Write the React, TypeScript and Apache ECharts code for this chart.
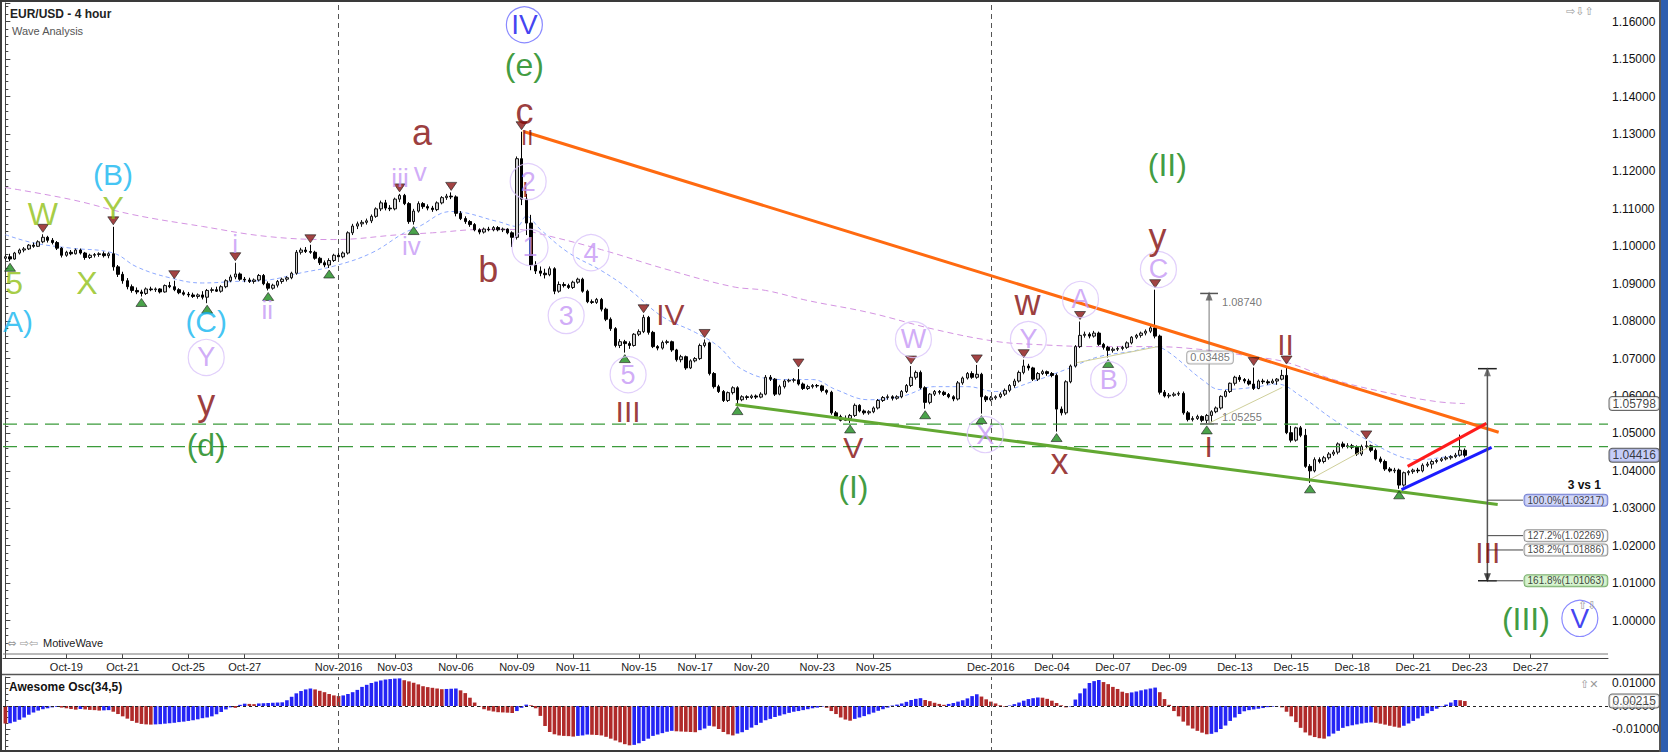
import React, { useEffect, useRef } from "react";
import * as echarts from "echarts";

const FONT = "'Liberation Sans', Arial, Helvetica, sans-serif";
const SLOTS = 342;

const dateTicks: [number, string][] = [
  [13, "Oct-19"], [25, "Oct-21"], [39, "Oct-25"], [51, "Oct-27"], [71, "Nov-2016"],
  [83, "Nov-03"], [96, "Nov-06"], [109, "Nov-09"], [121, "Nov-11"], [135, "Nov-15"],
  [147, "Nov-17"], [159, "Nov-20"], [173, "Nov-23"], [185, "Nov-25"], [210, "Dec-2016"],
  [223, "Dec-04"], [236, "Dec-07"], [248, "Dec-09"], [262, "Dec-13"], [274, "Dec-15"],
  [287, "Dec-18"], [300, "Dec-21"], [312, "Dec-23"], [325, "Dec-27"],
];
const monthStarts = ["71", "210"];

// 4-hour candles: [open, high, low, close]
const bars1 = [
  [1.0968,1.0978,1.0962,1.0972],[1.0972,1.0980,1.0960,1.0966],[1.0966,1.0985,1.0964,1.0982],[1.0982,1.0994,1.0978,1.0990],
  [1.0990,1.0998,1.0984,1.0993],[1.0993,1.1006,1.0990,1.1003],[1.1003,1.1010,1.0996,1.1000],[1.1000,1.1016,1.0998,1.1012],
  [1.1012,1.1032,1.1008,1.1024],[1.1024,1.1028,1.1010,1.1016],[1.1016,1.1022,1.1005,1.1010],[1.1010,1.1014,1.0990,1.0995],
  [1.0995,1.0998,1.0970,1.0976],[1.0976,1.0988,1.0972,1.0984],[1.0984,1.0990,1.0976,1.0980],[1.0980,1.0994,1.0978,1.0990],
  [1.0990,1.0994,1.0978,1.0982],[1.0982,1.0985,1.0964,1.0970],[1.0970,1.0980,1.0966,1.0976],[1.0976,1.0982,1.0970,1.0978],
  [1.0978,1.0984,1.0972,1.0980],[1.0980,1.0986,1.0970,1.0975],[1.0975,1.0984,1.0968,1.0980],[1.0980,1.1052,1.0935,1.0945],
  [1.0945,1.0950,1.0918,1.0925],[1.0925,1.0932,1.0900,1.0908],[1.0908,1.0915,1.0885,1.0892],[1.0892,1.0898,1.0876,1.0882],
  [1.0882,1.0890,1.0872,1.0878],[1.0878,1.0884,1.0866,1.0874],
];
const bars2 = [
  [1.0874,1.0890,1.0870,1.0886],[1.0886,1.0892,1.0880,1.0884],[1.0884,1.0890,1.0878,1.0886],[1.0886,1.0888,1.0874,1.0878],
  [1.0878,1.0898,1.0876,1.0895],[1.0895,1.0905,1.0888,1.0892],[1.0892,1.0908,1.0880,1.0884],[1.0884,1.0888,1.0872,1.0876],
  [1.0876,1.0882,1.0868,1.0872],[1.0872,1.0878,1.0864,1.0870],[1.0870,1.0876,1.0862,1.0866],[1.0866,1.0874,1.0860,1.0870],
  [1.0870,1.0880,1.0858,1.0864],[1.0864,1.0886,1.0848,1.0882],[1.0882,1.0890,1.0876,1.0884],[1.0884,1.0892,1.0878,1.0880],
  [1.0880,1.0896,1.0876,1.0892],[1.0892,1.0912,1.0888,1.0908],[1.0908,1.0924,1.0904,1.0918],[1.0918,1.0956,1.0912,1.0926],
  [1.0926,1.0930,1.0908,1.0912],[1.0912,1.0918,1.0904,1.0910],[1.0910,1.0916,1.0902,1.0906],[1.0906,1.0914,1.0900,1.0910],
  [1.0910,1.0926,1.0906,1.0922],[1.0922,1.0926,1.0896,1.0900],[1.0900,1.0906,1.0882,1.0888],[1.0888,1.0900,1.0884,1.0896],
  [1.0896,1.0910,1.0890,1.0906],[1.0906,1.0916,1.0900,1.0912],
];
const bars3 = [
  [1.0912,1.0920,1.0906,1.0916],[1.0916,1.0932,1.0912,1.0928],[1.0928,1.0990,1.0924,1.0984],[1.0984,1.0996,1.0978,1.0990],
  [1.0990,1.0998,1.0982,1.0986],[1.0986,1.1004,1.0980,1.0984],[1.0984,1.0988,1.0964,1.0968],[1.0968,1.0972,1.0950,1.0956],
  [1.0956,1.0962,1.0944,1.0950],[1.0950,1.0968,1.0942,1.0962],[1.0962,1.0980,1.0958,1.0976],[1.0976,1.0984,1.0966,1.0972],
  [1.0972,1.0986,1.0968,1.0982],[1.0982,1.1040,1.0978,1.1036],[1.1036,1.1060,1.1030,1.1054],[1.1054,1.1066,1.1046,1.1060],
  [1.1060,1.1070,1.1052,1.1064],[1.1064,1.1074,1.1058,1.1068],[1.1068,1.1085,1.1062,1.1080],[1.1080,1.1104,1.1076,1.1100],
  [1.1100,1.1122,1.1094,1.1116],[1.1116,1.1124,1.1096,1.1102],[1.1102,1.1110,1.1094,1.1100],[1.1100,1.1130,1.1096,1.1126],
  [1.1126,1.1140,1.1118,1.1136],[1.1136,1.1140,1.1110,1.1114],[1.1114,1.1118,1.1060,1.1066],[1.1066,1.1100,1.1058,1.1094],
  [1.1094,1.1120,1.1090,1.1114],[1.1114,1.1118,1.1100,1.1106],
];
const bars4 = [
  [1.1106,1.1112,1.1096,1.1102],[1.1102,1.1108,1.1092,1.1098],[1.1098,1.1120,1.1094,1.1116],[1.1116,1.1134,1.1112,1.1130],
  [1.1130,1.1140,1.1124,1.1134],[1.1134,1.1144,1.1126,1.1132],[1.1132,1.1136,1.1080,1.1088],[1.1088,1.1094,1.1070,1.1074],
  [1.1074,1.1080,1.1060,1.1066],[1.1066,1.1070,1.1052,1.1058],[1.1058,1.1062,1.1040,1.1044],[1.1044,1.1048,1.1032,1.1038],
  [1.1038,1.1050,1.1034,1.1046],[1.1046,1.1052,1.1040,1.1044],[1.1044,1.1054,1.1040,1.1050],[1.1050,1.1054,1.1040,1.1044],
  [1.1044,1.1050,1.1038,1.1046],[1.1046,1.1048,1.1032,1.1036],[1.1036,1.1040,1.0998,1.1024],[1.1024,1.1240,1.1018,1.1234],
  [1.1234,1.1306,1.1110,1.1126],[1.1126,1.1140,1.1030,1.1062],[1.1062,1.1084,1.0936,1.0950],[1.0950,1.0960,1.0926,1.0934],
  [1.0934,1.0946,1.0920,1.0928],[1.0928,1.0940,1.0914,1.0924],[1.0924,1.0946,1.0920,1.0940],[1.0940,1.0944,1.0872,1.0880],
  [1.0880,1.0906,1.0876,1.0898],[1.0898,1.0904,1.0890,1.0895],
];
const bars5 = [
  [1.0895,1.0900,1.0886,1.0890],[1.0890,1.0908,1.0886,1.0904],[1.0904,1.0916,1.0900,1.0912],[1.0912,1.0916,1.0876,1.0880],
  [1.0880,1.0884,1.0848,1.0852],[1.0852,1.0858,1.0846,1.0850],[1.0850,1.0862,1.0846,1.0858],[1.0858,1.0862,1.0826,1.0832],
  [1.0832,1.0836,1.0800,1.0805],[1.0805,1.0810,1.0774,1.0780],[1.0780,1.0784,1.0730,1.0735],[1.0735,1.0752,1.0728,1.0745],
  [1.0745,1.0750,1.0716,1.0740],[1.0740,1.0746,1.0726,1.0735],[1.0735,1.0768,1.0732,1.0765],[1.0765,1.0778,1.0760,1.0772],
  [1.0772,1.0817,1.0768,1.0810],[1.0810,1.0814,1.0764,1.0770],[1.0770,1.0774,1.0728,1.0732],[1.0732,1.0736,1.0722,1.0728],
  [1.0728,1.0748,1.0724,1.0743],[1.0743,1.0750,1.0738,1.0745],[1.0745,1.0748,1.0718,1.0723],[1.0723,1.0726,1.0692,1.0697],
  [1.0697,1.0710,1.0690,1.0705],[1.0705,1.0708,1.0670,1.0675],[1.0675,1.0698,1.0672,1.0694],[1.0694,1.0704,1.0690,1.0700],
  [1.0700,1.0740,1.0696,1.0735],[1.0735,1.0751,1.0730,1.0742],
];
const bars6 = [
  [1.0742,1.0745,1.0655,1.0660],[1.0660,1.0664,1.0620,1.0625],[1.0625,1.0630,1.0608,1.0612],[1.0612,1.0616,1.0584,1.0588],
  [1.0588,1.0612,1.0584,1.0609],[1.0609,1.0626,1.0604,1.0622],[1.0622,1.0626,1.0577,1.0590],[1.0590,1.0602,1.0586,1.0598],
  [1.0598,1.0602,1.0590,1.0596],[1.0596,1.0604,1.0592,1.0600],[1.0600,1.0604,1.0592,1.0597],[1.0597,1.0610,1.0594,1.0605],
  [1.0605,1.0656,1.0602,1.0650],[1.0650,1.0656,1.0640,1.0645],[1.0645,1.0648,1.0600,1.0605],[1.0605,1.0630,1.0602,1.0625],
  [1.0625,1.0644,1.0620,1.0640],[1.0640,1.0646,1.0636,1.0642],[1.0642,1.0648,1.0636,1.0643],[1.0643,1.0672,1.0628,1.0632],
  [1.0632,1.0636,1.0616,1.0620],[1.0620,1.0630,1.0616,1.0625],[1.0625,1.0632,1.0620,1.0628],[1.0628,1.0632,1.0622,1.0627],
  [1.0627,1.0630,1.0610,1.0615],[1.0615,1.0618,1.0604,1.0610],[1.0610,1.0614,1.0550,1.0555],[1.0555,1.0560,1.0540,1.0545],
  [1.0545,1.0550,1.0532,1.0535],[1.0535,1.0548,1.0533,1.0540],
];
const bars7 = [
  [1.0540,1.0552,1.0528,1.0548],[1.0548,1.0580,1.0544,1.0575],[1.0575,1.0578,1.0556,1.0560],[1.0560,1.0564,1.0550,1.0555],
  [1.0555,1.0562,1.0550,1.0558],[1.0558,1.0572,1.0554,1.0568],[1.0568,1.0592,1.0564,1.0588],[1.0588,1.0600,1.0584,1.0596],
  [1.0596,1.0604,1.0590,1.0598],[1.0598,1.0602,1.0588,1.0594],[1.0594,1.0602,1.0590,1.0598],[1.0598,1.0616,1.0594,1.0612],
  [1.0612,1.0632,1.0608,1.0628],[1.0628,1.0680,1.0624,1.0650],[1.0650,1.0668,1.0644,1.0663],[1.0663,1.0668,1.0618,1.0622],
  [1.0622,1.0626,1.0566,1.0583],[1.0583,1.0608,1.0578,1.0605],[1.0605,1.0616,1.0600,1.0612],[1.0612,1.0616,1.0604,1.0610],
  [1.0610,1.0614,1.0600,1.0604],[1.0604,1.0608,1.0594,1.0598],[1.0598,1.0602,1.0586,1.0592],[1.0592,1.0640,1.0588,1.0635],
  [1.0635,1.0652,1.0630,1.0648],[1.0648,1.0664,1.0644,1.0660],[1.0660,1.0666,1.0646,1.0650],[1.0650,1.0683,1.0646,1.0658],
  [1.0658,1.0662,1.0553,1.0598],[1.0598,1.0602,1.0584,1.0590],
];
const bars8 = [
  [1.0590,1.0600,1.0586,1.0595],[1.0595,1.0602,1.0590,1.0598],[1.0598,1.0610,1.0594,1.0605],[1.0605,1.0620,1.0600,1.0615],
  [1.0615,1.0632,1.0610,1.0628],[1.0628,1.0646,1.0622,1.0640],[1.0640,1.0668,1.0636,1.0663],[1.0663,1.0697,1.0658,1.0680],
  [1.0680,1.0686,1.0668,1.0675],[1.0675,1.0678,1.0640,1.0645],[1.0645,1.0664,1.0640,1.0660],[1.0660,1.0670,1.0656,1.0665],
  [1.0665,1.0668,1.0654,1.0660],[1.0660,1.0664,1.0650,1.0655],[1.0655,1.0660,1.0505,1.0565],[1.0565,1.0572,1.0548,1.0555],
  [1.0555,1.0642,1.0550,1.0638],[1.0638,1.0684,1.0634,1.0680],[1.0680,1.0736,1.0676,1.0732],[1.0732,1.0799,1.0728,1.0762],
  [1.0762,1.0772,1.0756,1.0765],[1.0765,1.0770,1.0754,1.0760],[1.0760,1.0774,1.0756,1.0768],[1.0768,1.0772,1.0734,1.0738],
  [1.0738,1.0742,1.0724,1.0730],[1.0730,1.0734,1.0703,1.0722],[1.0722,1.0730,1.0716,1.0725],[1.0725,1.0732,1.0720,1.0727],
  [1.0727,1.0734,1.0722,1.0730],[1.0730,1.0746,1.0726,1.0742],
];
const bars9 = [
  [1.0742,1.0760,1.0738,1.0757],[1.0757,1.0766,1.0752,1.0762],[1.0762,1.0772,1.0756,1.0768],[1.0768,1.0778,1.0762,1.0773],
  [1.0773,1.0790,1.0768,1.0782],[1.0782,1.0884,1.0754,1.0760],[1.0760,1.0764,1.0604,1.0610],[1.0610,1.0616,1.0596,1.0600],
  [1.0600,1.0608,1.0594,1.0602],[1.0602,1.0610,1.0598,1.0605],[1.0605,1.0612,1.0600,1.0607],[1.0607,1.0612,1.0550,1.0555],
  [1.0555,1.0560,1.0532,1.0537],[1.0537,1.0546,1.0532,1.0540],[1.0540,1.0550,1.0536,1.0545],[1.0545,1.0548,1.0530,1.0535],
  [1.0535,1.0552,1.05255,1.0548],[1.0548,1.0562,1.0530,1.0558],[1.0558,1.0572,1.0554,1.0568],[1.0568,1.0602,1.0564,1.0599],
  [1.0599,1.0616,1.0596,1.0612],[1.0612,1.0636,1.0608,1.0634],[1.0634,1.0654,1.0628,1.0650],[1.0650,1.0656,1.0638,1.0644],
  [1.0644,1.0648,1.0634,1.0640],[1.0640,1.0646,1.0628,1.0632],[1.0632,1.0676,1.0616,1.0620],[1.0620,1.0644,1.0618,1.0640],
  [1.0640,1.0646,1.0632,1.0638],[1.0638,1.0644,1.0630,1.0635],
];
const bars10 = [
  [1.0635,1.0646,1.0632,1.0640],[1.0640,1.0648,1.0630,1.0645],[1.0645,1.0670,1.0642,1.0655],[1.0655,1.0680,1.0498,1.0502],
  [1.0502,1.0520,1.0476,1.0482],[1.0482,1.0518,1.0478,1.0515],[1.0515,1.0520,1.0490,1.0495],[1.0495,1.0512,1.0408,1.0412],
  [1.0412,1.0418,1.0368,1.0400],[1.0400,1.0436,1.0396,1.0430],[1.0430,1.0436,1.0420,1.0425],[1.0425,1.0440,1.0420,1.0435],
  [1.0435,1.0450,1.0430,1.0445],[1.0445,1.0456,1.0440,1.0450],[1.0450,1.0476,1.0444,1.0472],[1.0472,1.0478,1.0460,1.0465],
  [1.0465,1.0474,1.0460,1.0467],[1.0467,1.0472,1.0458,1.0463],[1.0463,1.0468,1.0440,1.0445],[1.0445,1.0470,1.0440,1.0465],
  [1.0465,1.0480,1.0458,1.0467],[1.0467,1.0470,1.0450,1.0455],[1.0455,1.0460,1.0428,1.0432],[1.0432,1.0438,1.0420,1.0425],
  [1.0425,1.0430,1.0400,1.0405],[1.0405,1.0410,1.0396,1.0400],[1.0400,1.0408,1.0394,1.0402],[1.0402,1.0406,1.0352,1.0362],
  [1.0362,1.0398,1.0358,1.0395],[1.0395,1.0402,1.0388,1.0398],
];
const bars11 = [
  [1.0398,1.0406,1.0392,1.0402],[1.0402,1.0408,1.0394,1.0400],[1.0400,1.0420,1.0396,1.0415],[1.0415,1.0424,1.0410,1.0418],
  [1.0418,1.0430,1.0406,1.0425],[1.0425,1.0432,1.0420,1.0428],[1.0428,1.0436,1.0424,1.0432],[1.0432,1.0440,1.0428,1.0435],
  [1.0435,1.0442,1.0430,1.0438],[1.0438,1.0448,1.0434,1.0442],[1.0442,1.0497,1.0438,1.0455],[1.0455,1.0460,1.0436,1.04416],
];

// Awesome Oscillator (34,5), in thousandths
const ao1 = [-7.6,-7.5,-6.8,-6.0,-5.0,-3.8,-2.8,-2.0,-1.4,-1.0,-0.6,-0.4,-0.7,-1.0,-1.3,-1.6,-1.3,-1.5,-1.7,-1.8,-2.0,-1.9,-1.8,-2.5,-3.5,-4.5,-5.5,-6.5,-7.3,-7.8,-8.0,-8.1,-8.0,-7.9,-7.7,-7.5,-7.3,-7.0,-6.8,-6.5,-6.2,-5.8,-5.3,-5.0,-4.5,-3.6,-2.6,-1.5,-0.6,-0.8,0.5,1.0,0.9,0.8,1.1,1.2,1.3,1.4,1.5,1.6];
const ao2 = [2.5,4.0,5.5,6.5,7.2,7.6,7.2,6.6,6.0,5.2,4.6,4.3,4.6,5.2,6.0,7.0,8.3,9.2,10.0,10.6,11.1,11.5,11.7,11.9,12.0,11.2,10.7,10.1,9.4,8.6,8.2,7.9,7.6,7.3,7.4,7.5,7.6,6.8,5.6,3.6,1.5,-0.3,-1.4,-2.0,-2.4,-2.7,-2.8,-2.9,-3.0,-2.2,-0.8,0.6,0.3,-1.0,-4.3,-8.7,-11.3,-12.3,-12.8,-13.0];
const ao3 = [-13.1,-13.3,-13.0,-12.8,-12.4,-12.5,-12.6,-12.8,-13.4,-14.2,-15.0,-15.8,-16.6,-17.1,-16.9,-16.2,-15.2,-14.2,-13.0,-12.4,-11.8,-11.2,-10.8,-11.0,-11.1,-11.2,-11.3,-11.4,-10.5,-9.8,-8.6,-8.9,-10.0,-11.3,-12.3,-12.8,-12.0,-11.4,-10.4,-9.4,-8.3,-7.3,-6.2,-5.6,-4.8,-4.2,-3.6,-3.0,-2.5,-2.2,-1.8,-1.4,-1.0,-0.7,-0.3,-0.8,-2.2,-3.5,-5.0,-5.9];
const ao4 = [-6.4,-5.6,-5.0,-4.4,-3.6,-2.9,-2.1,-1.4,-0.7,0.2,0.6,1.1,1.8,2.6,3.1,3.4,2.6,2.1,1.4,0.9,0.5,0.9,1.3,1.9,2.5,3.3,4.3,5.1,4.1,2.9,1.9,1.1,0.3,-0.3,0.2,0.8,1.5,2.3,3.0,3.4,3.7,3.6,3.1,2.3,1.3,0.3,-0.6,-0.2,2.8,5.5,7.6,10.0,10.8,11.3,10.4,9.5,8.3,7.4,6.2,5.6];
const ao5 = [5.9,6.3,6.8,7.2,7.6,8.0,6.0,3.0,0.5,-2.2,-4.5,-6.8,-8.5,-9.8,-10.8,-11.6,-12.3,-12.1,-11.4,-10.0,-8.5,-6.5,-5.0,-3.5,-2.3,-1.8,-1.5,-1.2,-0.9,-0.5,-0.3,-0.1,-0.6,-2.5,-4.5,-7.0,-9.5,-11.5,-12.8,-13.5,-14.0,-14.2,-13.2,-12.0,-10.8,-9.5,-8.8,-8.4,-8.0,-7.6,-7.3,-7.1,-7.3,-7.7,-8.1,-8.6,-9.0,-9.4,-8.6,-7.6,-6.5,-5.4,-4.3,-3.2,-2.2,-1.2,-0.3,0.6,1.5,2.6,2.5,2.15];

// moving averages read at sample bars [bar, price]
const maFast = [[0,1.1031],[6,1.1009],[14,1.0995],[23,1.0982],[28,1.0945],[35,1.0916],[42,1.0902],[49,1.0906],[56,1.0910],[63,1.0929],[70,1.0947],[78,1.0982],[85,1.1036],[88,1.1052],[95,1.1093],[105,1.1066],[109,1.1053],[111,1.1080],[114,1.1045],[120,1.0983],[127,1.0935],[133,1.0884],[140,1.0812],[147,1.0770],[152,1.0732],[157,1.0671],[165,1.0644],[172,1.0644],[177,1.0617],[184,1.0590],[191,1.0599],[198,1.0625],[205,1.0625],[211,1.0612],[219,1.0639],[226,1.0671],[233,1.0705],[240,1.0719],[245,1.0732],[248,1.0716],[255,1.0644],[259,1.0617],[266,1.0623],[271,1.0632],[276,1.0600],[283,1.0537],[290,1.0484],[297,1.0439],[301,1.0430],[308,1.0439],[311,1.0444]];
const maSlow = [[0,1.1157],[14,1.1125],[27,1.1085],[42,1.1053],[56,1.1026],[70,1.1018],[84,1.1031],[91,1.1036],[102,1.1045],[109,1.1045],[113,1.1036],[127,1.0991],[141,1.0938],[155,1.0892],[162,1.0882],[171,1.0855],[184,1.0823],[198,1.0778],[211,1.0746],[219,1.0738],[233,1.0732],[244,1.0732],[255,1.0724],[266,1.0705],[273,1.0690],[283,1.0644],[294,1.0610],[305,1.0585],[311,1.05798]];

const peakIdx = [8,23,36,49,65,84,95,110,136,149,169,193,207,217,229,245,266,273,290];
const troughIdx = [1,29,43,56,69,87,132,156,180,196,208,224,235,256,278,297];

const supportLevels = [1.0525, 1.0465];
const trendOrange = [[110.6,1.1306],[318.2,1.0503]];
const trendGreen = [[155.6,1.0577],[318.0,1.0310]];
const channelRed = [[298.8,1.0412],[315.6,1.0527]];
const channelBlue = [[297.5,1.0350],[316.7,1.0463]];
const guide1 = [[228.3,1.0689],[245.6,1.0732]];
const guide2 = [[256.7,1.0529],[272.1,1.0623]];
const guide3 = [[278.0,1.0377],[290.8,1.0465]];

const measureCol = 256.5, measureTop = 1.0874, measureBottom = 1.05255;
const fibCol = 315.8, fibTop = 1.0673, fibBoxCol = 323.4;
const fibLevels: [string, number][] = [["100.0%",1.03217],["127.2%",1.02269],["138.2%",1.01886],["161.8%",1.01063]];
const lastPrice = 1.04416, slowMaLast = 1.05798, aoLast = 0.00215;

// wave labels [text, bar, price]
const cyanLabels = [["(B)",22.95,1.1191],["A)",2.7,1.0799],["(C)",42.8,1.0799]];
const limeLabels = [["W",8.0,1.1085],["Y",22.95,1.1103],["5",1.85,1.0903],["X",17.4,1.0903]];
const maroonLetters = [["y",42.8,1.0583],["a",88.8,1.1304],["b",102.9,1.0938],["c",110.6,1.1360],["w",217.8,1.0850],["x",224.6,1.0425],["y",245.5,1.1026]];
const maroonRoman = [["IV",141.7,1.0818],["III",132.7,1.0559],["V",180.7,1.0462],["I",256.4,1.0465],["II",272.8,1.0738],["III",315.9,1.0182]];
const maroonSmall = [["II",111.2,1.1290],["I",110.8,1.1151]];
const greenLabels = [["(d)",42.8,1.0470],["(e)",110.6,1.1485],["(I)",180.7,1.0358],["(II)",247.6,1.1218],["(III)",324.0,1.0003]];
const purpleSmall = [["i",48.96,1.1005],["ii",55.8,1.0831],["iii",84.1,1.1183],["v",88.4,1.1199],["iv",86.5,1.1002]];
const purpleCircled = [["Y",42.8,1.0703],["2",111.4,1.1173],["1",111.8,1.0997],["3",119.5,1.0815],["4",124.8,1.0983],["5",132.7,1.0657],["W",193.5,1.0751],["Y",218.0,1.0751],["X",208.8,1.0497],["A",229.1,1.0858],["B",235.1,1.0644],["C",245.7,1.0938]];
const blueCircled = [["IV",110.6,1.1592],["V",335.5,1.0006]];

const BLUE = "#2424f5";
const RED = "#b02a2a";

function buildOption() {
  const bars = [...bars1, ...bars2, ...bars3, ...bars4, ...bars5, ...bars6, ...bars7, ...bars8, ...bars9, ...bars10, ...bars11];
  const candles = bars.map(([o, h, l, c]) => [o, c, l, h]);
  const ao = [...ao1, ...ao2, ...ao3, ...ao4, ...ao5].map((v) => v / 1000);
  const aoData = ao.map((v, i) => ({ value: v, itemStyle: { color: i > 0 && v > ao[i - 1] ? BLUE : RED } }));
  const tickMap = new Map<number, string>(dateTicks);
  const cats = Array.from({ length: SLOTS }, (_, i) => String(i));

  const line = (data: number[][], color: string, width: number, type: any = "solid", z = 5, smooth: any = false) => ({
    type: "line", xAxisIndex: 2, yAxisIndex: 0, data, symbol: "none", smooth, z, silent: true,
    lineStyle: { color, width, type },
  });

  const texts = (items: any[], color: string, size: number, circle?: string) => ({
    type: "scatter", xAxisIndex: 2, yAxisIndex: 0, z: 9, silent: true, clip: false,
    symbol: "circle", symbolSize: circle ? 36 : 1,
    itemStyle: circle
      ? { color: "rgba(255,255,255,0)", borderColor: circle, borderWidth: 1.2 }
      : { color: "rgba(255,255,255,0)" },
    label: { show: true, position: "inside", formatter: "{b}", color, fontSize: size, fontFamily: FONT },
    data: items.map(([t, x, y]) => ({ name: t, value: [x, y] })),
  });

  const box = (xi: number, yi: number, x: number, y: number, text: string, bg: string, border: string, size: number, pos: any = "right", color = "#111") => ({
    type: "scatter", xAxisIndex: xi, yAxisIndex: yi, z: 12, silent: true, clip: false,
    symbol: "circle", symbolSize: 1, itemStyle: { color: "rgba(255,255,255,0)" },
    label: {
      show: true, position: pos, distance: 1, formatter: text, color, fontSize: size, fontFamily: FONT,
      backgroundColor: bg, borderColor: border, borderWidth: border === "none" ? 0 : 1, borderRadius: 3, padding: [1, 3, 0, 3],
    },
    data: [[x, y]],
  });

  const series: any[] = [
    line(maFast, "#8eaaff", 1, [4, 3], 2, 0.4),
    line(maSlow, "#d494e2", 1, [6, 4], 2, 0.4),
    {
      type: "candlestick", xAxisIndex: 0, yAxisIndex: 0, data: candles, barWidth: 3, z: 3, silent: true,
      itemStyle: { color: "#cfcfcf", color0: "#000000", borderColor: "#111111", borderColor0: "#000000", borderWidth: 1 },
      markLine: {
        silent: true, symbol: ["none", "none"], label: { show: false },
        data: monthStarts.map((m) => ({ xAxis: m, lineStyle: { color: "#555", width: 1, type: [5, 4] } })),
      },
    },
    ...supportLevels.map((v) => line([[-0.5, v], [SLOTS - 0.5, v]], "#3b9b3b", 1.3, [14, 7], 4)),
    {
      type: "bar", xAxisIndex: 1, yAxisIndex: 1, data: aoData, barWidth: 3.6, silent: true,
      markLine: {
        silent: true, symbol: ["none", "none"], label: { show: false },
        data: [
          { yAxis: 0, lineStyle: { color: "#222", width: 1, type: [3, 3] } },
          ...monthStarts.map((m) => ({ xAxis: m, lineStyle: { color: "#555", width: 1, type: [5, 4] } })),
        ],
      },
    },
    line(trendOrange, "#ff6a10", 3, "solid", 6),
    line(trendGreen, "#62a832", 3, "solid", 6),
    line(channelRed, "#ff1c1c", 3, "solid", 6),
    line(channelBlue, "#1c1cff", 3, "solid", 6),
    line(guide1, "#cfcf9a", 1, "solid", 4),
    line(guide2, "#cfcf9a", 1, "solid", 4),
    line(guide3, "#cfcf9a", 1, "solid", 4),
    line([[measureCol, measureBottom], [measureCol, measureTop]], "#777", 1, "solid", 6),
    line([[measureCol - 1.9, measureTop], [measureCol + 1.9, measureTop]], "#555", 1.5, "solid", 6),
    line([[measureCol - 1.9, measureBottom], [measureCol + 1.9, measureBottom]], "#777", 1.5, "solid", 6),
    line([[fibCol, fibLevels[3][1]], [fibCol, fibTop]], "#555", 1.5, "solid", 6),
    line([[fibCol - 2, fibTop], [fibCol + 2, fibTop]], "#222", 1.5, "solid", 6),
    line([[fibCol - 2, fibLevels[3][1]], [fibCol + 2, fibLevels[3][1]]], "#222", 1.5, "solid", 6),
    ...fibLevels.map(([, v]) => line([[fibCol, v], [fibBoxCol, v]], "#444", 1, "solid", 6)),
    {
      type: "scatter", xAxisIndex: 2, yAxisIndex: 0, z: 7, silent: true, clip: false,
      symbol: "triangle", symbolSize: [7, 9], itemStyle: { color: "#555" },
      data: [[measureCol, measureTop - 0.0007], [fibCol, fibTop - 0.0008]],
    },
    {
      type: "scatter", xAxisIndex: 2, yAxisIndex: 0, z: 7, silent: true, clip: false,
      symbol: "path://M0,0L10,0L5,10Z", symbolSize: [7, 9], itemStyle: { color: "#222" },
      data: [[fibCol, fibLevels[3][1] + 0.0008]],
    },
    {
      type: "scatter", xAxisIndex: 0, yAxisIndex: 0, z: 7, silent: true,
      symbol: "path://M0,0L12,0L6,8Z", symbolSize: [11, 8], symbolOffset: [0, -6],
      itemStyle: { color: "#8b1414", borderColor: "#222", borderWidth: 0.8 },
      data: peakIdx.map((i) => [String(i), bars[i][1]]),
    },
    {
      type: "scatter", xAxisIndex: 0, yAxisIndex: 0, z: 7, silent: true,
      symbol: "triangle", symbolSize: [11, 8], symbolOffset: [0, 6],
      itemStyle: { color: "#1d8c1d", borderColor: "#222", borderWidth: 0.8 },
      data: troughIdx.map((i) => [String(i), bars[i][2]]),
    },
    texts(cyanLabels, "#12b6f0", 30),
    texts(limeLabels, "#8fbf14", 32),
    texts(maroonLetters, "#820a0a", 36),
    texts(maroonRoman, "#820a0a", 30),
    texts(maroonSmall, "#820a0a", 22),
    texts(greenLabels, "#0e820e", 32),
    texts(purpleSmall, "#c597f5", 26),
    texts(purpleCircled, "#c597f5", 27, "#dac3fa"),
    texts(blueCircled, "#1212ee", 28, "#6d6dff"),
    box(2, 0, measureCol + 0.2, 1.0703, "0.03485", "#ffffff", "#999", 11, "inside", "#555"),
    box(2, 0, measureCol + 1.8, 1.0852, "1.08740", "rgba(0,0,0,0)", "none", 11, "right", "#555"),
    box(2, 0, measureCol + 1.8, 1.0545, "1.05255", "rgba(0,0,0,0)", "none", 11, "right", "#555"),
    box(2, 0, fibBoxCol, fibLevels[0][1], `${fibLevels[0][0]}(${fibLevels[0][1].toFixed(5)})`, "#c6cdf7", "#5461c6", 10),
    box(2, 0, fibBoxCol, fibLevels[1][1], `${fibLevels[1][0]}(${fibLevels[1][1].toFixed(5)})`, "#ffffff", "#777", 10),
    box(2, 0, fibBoxCol, fibLevels[2][1], `${fibLevels[2][0]}(${fibLevels[2][1].toFixed(5)})`, "#ffffff", "#777", 10),
    box(2, 0, fibBoxCol, fibLevels[3][1], `${fibLevels[3][0]}(${fibLevels[3][1].toFixed(5)})`, "#cdf0c4", "#5a9a4a", 10),
    box(2, 0, SLOTS - 0.5, slowMaLast, slowMaLast.toFixed(5), "#ffffff", "#444", 12),
    box(2, 0, SLOTS - 0.5, lastPrice, lastPrice.toFixed(5), "#b7c0f5", "#333", 12),
    box(3, 1, SLOTS - 0.5, aoLast, aoLast.toFixed(5), "#ffffff", "#444", 12),
  ];

  const axisText = { color: "#111", fontSize: 12, fontFamily: FONT };
  const chrome = (x: number, y: number, text: string, font: string, fill = "#222", align = "left") => ({
    type: "text", x, y, z: 50, silent: true,
    style: { text, font, fill, align, textAlign: align, verticalAlign: "middle", textVerticalAlign: "middle" },
  });
  const bar = (x: number, y: number, w: number, h: number, fill: string) => ({
    type: "rect", z: 60, silent: true, shape: { x, y, width: w, height: h }, style: { fill },
  });

  return {
    animation: false,
    backgroundColor: "#ffffff",
    grid: [
      { left: 3, top: 3, width: 1605, height: 655 },
      { left: 3, top: 677, width: 1605, height: 75 },
    ],
    xAxis: [
      {
        type: "category", gridIndex: 0, data: cats, boundaryGap: true,
        axisLine: { lineStyle: { color: "#444" } },
        axisTick: { show: true, inside: true, length: 4, alignWithLabel: true, interval: (i: number) => tickMap.has(i), lineStyle: { color: "#444" } },
        axisLabel: { interval: (i: number) => tickMap.has(i), formatter: (_v: string, i: number) => tickMap.get(i) || "", color: "#222", fontSize: 11, fontFamily: FONT, margin: 3 },
        splitLine: { show: false },
      },
      { type: "category", gridIndex: 1, data: cats, boundaryGap: true, show: false },
      { type: "value", gridIndex: 0, min: -0.5, max: SLOTS - 0.5, show: false },
      { type: "value", gridIndex: 1, min: -0.5, max: SLOTS - 0.5, show: false },
    ],
    yAxis: [
      {
        type: "value", gridIndex: 0, position: "right", min: 0.99, max: 1.165, interval: 0.01,
        axisLine: { show: true, lineStyle: { color: "#444" } },
        axisTick: { show: true, length: 5, lineStyle: { color: "#444" } },
        minorTick: { show: true, splitNumber: 5, length: 3, lineStyle: { color: "#444" } },
        axisLabel: { ...axisText, margin: 4, formatter: (v: number) => (v > 0.995 && v < 1.1625 ? v.toFixed(5) : "") },
        splitLine: { show: false }, minorSplitLine: { show: false },
      },
      {
        type: "value", gridIndex: 1, position: "right", min: -0.02, max: 0.0126, interval: 0.01,
        axisLine: { show: true, lineStyle: { color: "#444" } },
        axisTick: { show: true, length: 5, lineStyle: { color: "#444" } },
        minorTick: { show: true, splitNumber: 4, length: 3, lineStyle: { color: "#444" } },
        axisLabel: { ...axisText, margin: 4, formatter: (v: number) => (v > -0.015 && v < 0.012 ? v.toFixed(5) : "") },
        splitLine: { show: false }, minorSplitLine: { show: false },
      },
    ],
    series,
    graphic: [
      chrome(10, 14, "EUR/USD - 4 hour", `bold 12px ${FONT}`, "#222"),
      chrome(12, 31, "Wave Analysis", `11px ${FONT}`, "#555"),
      chrome(7, 643, "⇔ ⇨⇦", `11px 'DejaVu Sans'`, "#999"),
      chrome(43, 643, "MotiveWave", `11px ${FONT}`, "#222"),
      chrome(1566, 11, "⇨⇩⇧", `11px 'DejaVu Sans'`, "#999"),
      chrome(1578, 605, "⇧⇩", `11px 'DejaVu Sans'`, "#999"),
      chrome(1580, 684, "⇧✕", `11px 'DejaVu Sans'`, "#999"),
      chrome(9, 687, "Awesome Osc(34,5)", `bold 12px ${FONT}`, "#111"),
      chrome(1601, 485, "3 vs 1", `bold 12px ${FONT}`, "#111", "right"),
      { type: "line", z: 55, silent: true, shape: { x1: 3, y1: 654, x2: 1608, y2: 654 }, style: { stroke: "#777", lineWidth: 1 } },
      { type: "line", z: 55, silent: true, shape: { x1: 0, y1: 674.5, x2: 1660, y2: 674.5 }, style: { stroke: "#555", lineWidth: 1.5 } },
      bar(0, 0, 1668, 2, "#3a3a3a"),
      bar(0, 0, 2, 752, "#3a3a3a"),
      bar(0, 750, 1668, 2, "#3a3a3a"),
      bar(1659, 0, 2, 752, "#555555"),
      bar(1661, 0, 7, 752, "#2d5daf"),
    ],
  };
}

export default function App() {
  const ref = useRef<HTMLDivElement>(null);
  useEffect(() => {
    const el = ref.current;
    if (!el) return;
    const chart = echarts.init(el, null, { renderer: "svg" });
    chart.setOption(buildOption() as any);
    return () => chart.dispose();
  }, []);
  return (
    <div
      ref={ref}
      style={{ position: "absolute", left: 0, top: 0, width: 1668, height: 752, background: "#fff" }}
    />
  );
}
